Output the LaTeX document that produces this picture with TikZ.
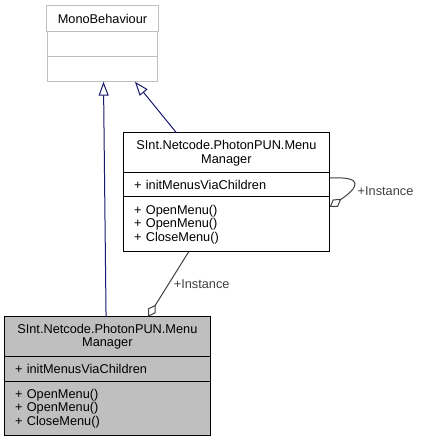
\documentclass[tikz,border=0pt]{standalone}
\usepackage{fontspec}
\setmainfont{Liberation Sans}
\usetikzlibrary{positioning,arrows.meta}
\definecolor{navy}{HTML}{191970}
\definecolor{edgegray}{HTML}{404040}
\definecolor{boxgray}{HTML}{BFBFBF}
\begin{document}
\begin{tikzpicture}[x=1bp,y=1bp,
 font=\fontsize{12.8}{13.5}\selectfont,
 box/.style={draw,outer sep=0pt,inner xsep=11bp,inner ysep=0pt,line width=1bp},
 head/.style={box,text width=184.5bp,align=center,minimum height=40bp},
 body/.style={box,text width=184.5bp,align=left},
 ext/.style={draw=boxgray,minimum width=110.4bp,minimum height=25bp},
 lab/.style={inner sep=2bp},
 inh/.style={navy,line width=1bp,-{Triangle[open,length=14bp,width=10bp]}},
 agg/.style={edgegray,line width=1bp,-{Diamond[open,length=14bp,width=9bp]}}]
\useasboundingbox (0,0) rectangle (420,443);
% base class
\node[box,ext,minimum height=26bp] (mono) at (102.5,424.3) {MonoBehaviour};
\node[box,ext,below=0pt of mono] (mono-attr) {};
\node[box,ext,below=0pt of mono-attr] (mono-ops) {};
% referenced class
\node[head] (ref) at (226.4,290) {SInt.Netcode.PhotonPUN.Menu\\Manager};
\node[body,minimum height=24bp,below=0pt of ref] (ref-attr) {+ initMenusViaChildren};
\node[body,minimum height=55bp,below=0pt of ref-attr] (ref-ops) {+ OpenMenu()\\+ OpenMenu()\\+ CloseMenu()};
% current class
\node[head,fill=boxgray] (cur) at (107.35,106.3) {SInt.Netcode.PhotonPUN.Menu\\Manager};
\node[body,fill=boxgray,minimum height=25bp,below=0pt of cur] (cur-attr) {+ initMenusViaChildren};
\node[body,fill=boxgray,minimum height=54bp,below=0pt of cur-attr] (cur-ops) {+ OpenMenu()\\+ OpenMenu()\\+ CloseMenu()};
\draw[inh] ([xshift=-1.3]cur.north) -- ([xshift=1]mono-ops.south);
\draw[inh] ([xshift=-50]ref.north) -- ([xshift=32.5]mono-ops.south);
\draw[agg] ([xshift=-38]ref-ops.south) -- node[lab,right,xshift=3] {+Instance} ([xshift=41]cur.north);
\draw[agg] ([yshift=7]ref-attr.east) .. controls +(36,2) and +(34:34) .. ([yshift=-10]ref-ops.north east)
 node[lab,pos=0.5,anchor=west,xshift=1.5,yshift=-7] {+Instance};
\end{tikzpicture}
\end{document}
